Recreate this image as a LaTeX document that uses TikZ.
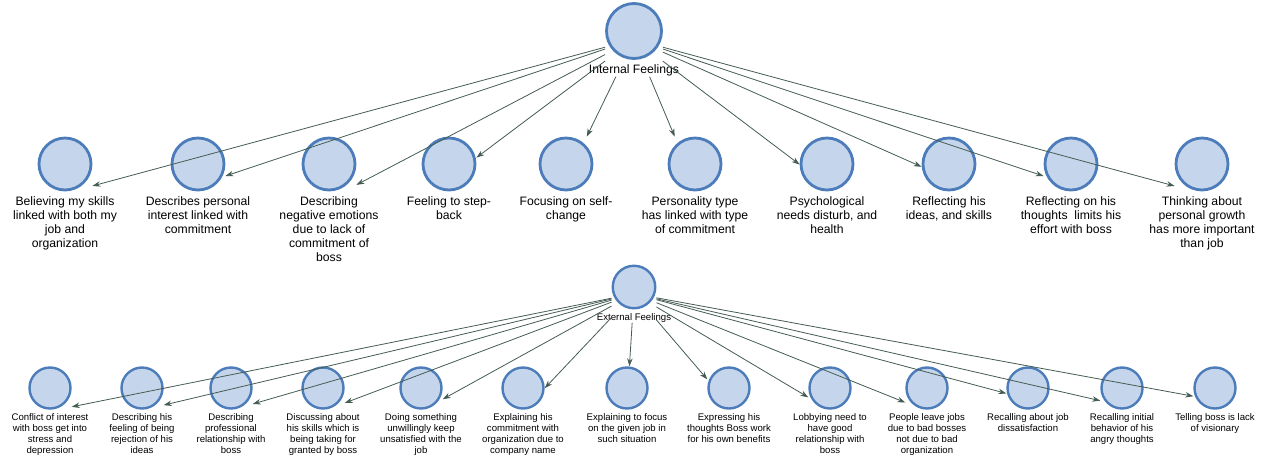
\documentclass[tikz,border=0pt]{standalone}
\usepackage{fontspec}
\setmainfont{Liberation Sans}
\usetikzlibrary{arrows.meta,fit}
\definecolor{cfill}{RGB}{197,214,236}
\definecolor{cline}{RGB}{76,124,186}
\definecolor{eline}{RGB}{68,92,82}
\tikzset{
  rootc/.style={circle,draw=cline,fill=cfill,line width=2.8pt,minimum size=55pt,inner sep=0},
  bigc/.style={circle,draw=cline,fill=cfill,line width=2.8pt,minimum size=52pt,inner sep=0},
  srootc/.style={circle,draw=cline,fill=cfill,line width=2.4pt,minimum size=42.5pt,inner sep=0},
  smallc/.style={circle,draw=cline,fill=cfill,line width=2.4pt,minimum size=41pt,inner sep=0},
  biglab/.style={anchor=north,align=center,inner sep=0,font=\fontsize{12.2}{14}\selectfont},
  smalllab/.style={anchor=north,align=center,inner sep=0,font=\fontsize{9.6}{11}\selectfont},
  hitbox/.style={rectangle,inner sep=0,outer sep=0,draw=none},
  edge/.style={draw=eline,line width=0.8pt,-{Stealth[length=8pt,width=5.5pt]}},
}
\begin{document}
\begin{tikzpicture}[x=1pt,y=-1pt]
\useasboundingbox (0,0) rectangle (1269,459);
% ---------- Internal feelings ----------
\node[rootc] (ir) at (634,31) {};
\node[biglab] (irl) at ([yshift=-5pt]ir.south) {Internal Feelings};
\node[hitbox,fit=(ir.north -| ir.west)(ir.east |- irl.south)] (irb) {};
\foreach \x/\t [count=\i] in {
  65/{Believing my skills\\linked with both my\\job and\\organization},
  198/{Describes personal\\interest linked with\\commitment},
  329/{Describing\\negative emotions\\due to lack of\\commitment of\\boss},
  449/{Feeling to step-\\back},
  566/{Focusing on self-\\change},
  695/{Personality type\\has linked with type\\of commitment},
  827/{Psychological\\needs disturb, and\\health},
  949/{Reflecting his\\ideas, and skills},
  1071/{Reflecting on his\\thoughts\ \ limits his\\effort with boss},
  1202/{Thinking about\\personal growth\\has more important\\than job}}{
  \node[bigc] (t\i) at (\x,164) {};
  \node[biglab] (tl\i) at ([yshift=-5pt]t\i.south) {\t};
  \node[hitbox,fit=(t\i.north -| t\i.west)(t\i.east |- tl\i.south)] (tb\i) {};
}
\foreach \i in {1,...,10}{
  \draw[edge] (irb) -- (tb\i);
}
% ---------- External feelings ----------
\node[srootc] (er) at (634,287) {};
\node[smalllab] (erl) at ([yshift=-4pt]er.south) {External Feelings};
\node[hitbox,fit=(er.north -| er.west)(er.east |- erl.south)] (erb) {};
\foreach \x/\t [count=\i] in {
  50/{Conflict of interest\\with boss get into\\stress and\\depression},
  142/{Describing his\\feeling of being\\rejection of his\\ideas},
  231/{Describing\\professional\\relationship with\\boss},
  323/{Discussing about\\his skills which is\\being taking for\\granted by boss},
  421/{Doing something\\unwillingly keep\\unsatisfied with the\\job},
  523/{Explaining his\\commitment with\\organization due to\\company name},
  627/{Explaining to focus\\on the given job in\\such situation},
  729/{Expressing his\\thoughts Boss work\\for his own benefits},
  830/{Lobbying need to\\have good\\relationship with\\boss},
  927/{People leave jobs\\due to bad bosses\\not due to bad\\organization},
  1028/{Recalling about job\\dissatisfaction},
  1122/{Recalling initial\\behavior of his\\angry thoughts},
  1215/{Telling boss is lack\\of visionary}}{
  \node[smallc] (b\i) at (\x,388) {};
  \node[smalllab] (bl\i) at ([yshift=-4pt]b\i.south) {\t};
  \node[hitbox,fit=(b\i.north -| b\i.west)(b\i.east |- bl\i.south)] (bb\i) {};
}
\foreach \i in {1,...,13}{
  \draw[edge] (erb) -- (bb\i);
}
\end{tikzpicture}
\end{document}
